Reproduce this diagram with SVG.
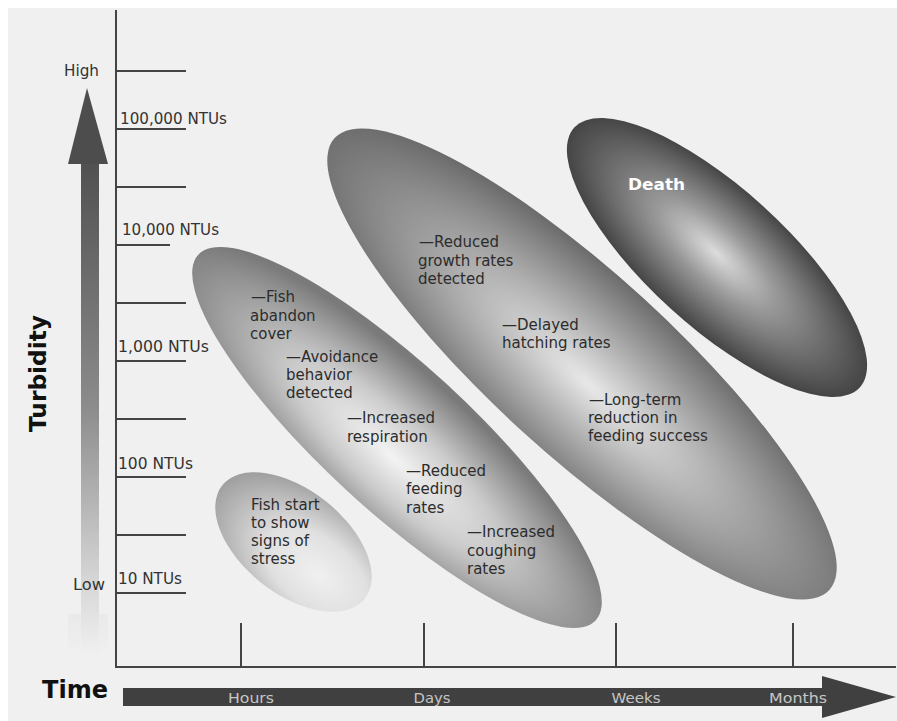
<svg xmlns="http://www.w3.org/2000/svg" width="897" height="721" viewBox="0 0 897 721">
<style>
.lbl{font-family:"DejaVu Sans","Liberation Sans",sans-serif;font-size:15px;fill:#2c2c2c}
.ax{font-family:"DejaVu Sans","Liberation Sans",sans-serif;font-size:15px;fill:#333}
.tm{font-family:"DejaVu Sans","Liberation Sans",sans-serif;font-size:14px;fill:#c6c6c6;text-anchor:middle}
.ttl{font-family:"DejaVu Sans","Liberation Sans",sans-serif;font-weight:bold;fill:#111}
.tick{stroke:#444;stroke-width:2;fill:none}
</style>
<defs>
<radialGradient id="g1" cx="0.68" cy="0.58" r="0.72" fx="0.72" fy="0.6">
<stop offset="0" stop-color="#f0f0f0"/>
<stop offset="0.45" stop-color="#e0e0e0"/>
<stop offset="1" stop-color="#9a9a9a"/>
</radialGradient>
<radialGradient id="g2" cx="0.52" cy="0.6" r="0.56" fx="0.52" fy="0.62">
<stop offset="0" stop-color="#f3f3f3"/>
<stop offset="0.45" stop-color="#cacaca"/>
<stop offset="1" stop-color="#7a7a7a"/>
</radialGradient>
<radialGradient id="g3" cx="0.53" cy="0.55" r="0.56" fx="0.53" fy="0.56">
<stop offset="0" stop-color="#e8e8e8"/>
<stop offset="0.5" stop-color="#a9a9a9"/>
<stop offset="1" stop-color="#6a6a6a"/>
</radialGradient>
<radialGradient id="g4" cx="0.5" cy="0.5" r="0.55" fx="0.49" fy="0.48">
<stop offset="0" stop-color="#dcdcdc"/>
<stop offset="0.35" stop-color="#9a9a9a"/>
<stop offset="1" stop-color="#373737"/>
</radialGradient>
<linearGradient id="shaft" x1="0" y1="160" x2="0" y2="655" gradientUnits="userSpaceOnUse">
<stop offset="0" stop-color="#505050"/>
<stop offset="0.5" stop-color="#8c8c8c"/>
<stop offset="0.85" stop-color="#d6d6d6"/>
<stop offset="1" stop-color="#f0f0f0"/>
</linearGradient>
<linearGradient id="tail" x1="0" y1="605" x2="0" y2="660" gradientUnits="userSpaceOnUse">
<stop offset="0" stop-color="#e8e8e8"/>
<stop offset="1" stop-color="#f0f0f0"/>
</linearGradient>
</defs>

<rect x="0" y="0" width="897" height="721" fill="#ffffff"/>
<rect x="8" y="8" width="889" height="713" fill="#f0f0f0"/>

<g id="ellipse-stress">
<g transform="translate(293.5,542) rotate(38.5)"><ellipse cx="0" cy="0" rx="91" ry="52" fill="url(#g1)"/></g>
<text class="lbl" x="251" y="510">Fish start</text>
<text class="lbl" x="251" y="528">to show</text>
<text class="lbl" x="251" y="546">signs of</text>
<text class="lbl" x="251" y="564">stress</text>
</g>

<g id="ellipse-behavior">
<g transform="translate(397,437.5) rotate(42.6)"><ellipse cx="0" cy="0" rx="270" ry="73" fill="url(#g2)"/></g>
<text class="lbl" x="251" y="302">—Fish</text>
<text class="lbl" x="250" y="321">abandon</text>
<text class="lbl" x="250" y="339">cover</text>
<text class="lbl" x="286" y="362">—Avoidance</text>
<text class="lbl" x="286" y="380">behavior</text>
<text class="lbl" x="286" y="398">detected</text>
<text class="lbl" x="347" y="423">—Increased</text>
<text class="lbl" x="347" y="442">respiration</text>
<text class="lbl" x="406" y="476">—Reduced</text>
<text class="lbl" x="406" y="494">feeding</text>
<text class="lbl" x="406" y="513">rates</text>
<text class="lbl" x="467" y="537">—Increased</text>
<text class="lbl" x="467" y="556">coughing</text>
<text class="lbl" x="467" y="574">rates</text>
</g>

<g id="ellipse-growth">
<g transform="translate(582,364) rotate(42.4)"><ellipse cx="0" cy="0" rx="335" ry="90" fill="url(#g3)"/></g>
<text class="lbl" x="419" y="247">—Reduced</text>
<text class="lbl" x="418" y="266">growth rates</text>
<text class="lbl" x="418" y="284">detected</text>
<text class="lbl" x="502" y="330">—Delayed</text>
<text class="lbl" x="502" y="348">hatching rates</text>
<text class="lbl" x="589" y="405">—Long-term</text>
<text class="lbl" x="588" y="423">reduction in</text>
<text class="lbl" x="588" y="441">feeding success</text>
</g>

<g id="ellipse-death">
<g transform="translate(717,257.5) rotate(42.3)"><ellipse cx="0" cy="0" rx="193" ry="69" fill="url(#g4)"/></g>
<text x="628" y="190" font-family="DejaVu Sans, Liberation Sans, sans-serif" font-weight="bold" font-size="15" fill="#ffffff" textLength="57" lengthAdjust="spacingAndGlyphs">Death</text>
</g>

<g id="connectors">
<polygon points="68,614 108,614 108,652 88,642 68,652" fill="url(#tail)"/>
<rect x="81" y="160" width="18" height="495" fill="url(#shaft)"/>
<polygon points="87,88 108,164 68,164" fill="#4d4d4d"/>
<line class="tick" x1="116" y1="10" x2="116" y2="667"/>
<line class="tick" x1="115" y1="667" x2="896" y2="667"/>
<line class="tick" x1="116" y1="71" x2="186" y2="71"/>
<line class="tick" x1="116" y1="129" x2="186" y2="129"/>
<line class="tick" x1="116" y1="187" x2="186" y2="187"/>
<line class="tick" x1="116" y1="245" x2="170" y2="245"/>
<line class="tick" x1="116" y1="303" x2="186" y2="303"/>
<line class="tick" x1="116" y1="361" x2="186" y2="361"/>
<line class="tick" x1="116" y1="419" x2="186" y2="419"/>
<line class="tick" x1="116" y1="477" x2="186" y2="477"/>
<line class="tick" x1="116" y1="535" x2="186" y2="535"/>
<line class="tick" x1="116" y1="593" x2="186" y2="593"/>
<line class="tick" x1="241" y1="623" x2="241" y2="667"/>
<line class="tick" x1="424" y1="623" x2="424" y2="667"/>
<line class="tick" x1="616" y1="623" x2="616" y2="667"/>
<line class="tick" x1="793" y1="623" x2="793" y2="667"/>
<rect x="123" y="688" width="703" height="18" fill="#404040"/>
<polygon points="822,676 896,697 822,718" fill="#404040"/>
</g>

<g id="labels">
<text class="ax" x="64" y="76" textLength="35" lengthAdjust="spacingAndGlyphs">High</text>
<text class="ax" x="73" y="590" textLength="32" lengthAdjust="spacingAndGlyphs">Low</text>
<text class="ax" x="120" y="124" textLength="107" lengthAdjust="spacingAndGlyphs">100,000 NTUs</text>
<text class="ax" x="122" y="235" textLength="97" lengthAdjust="spacingAndGlyphs">10,000 NTUs</text>
<text class="ax" x="118" y="352" textLength="91" lengthAdjust="spacingAndGlyphs">1,000 NTUs</text>
<text class="ax" x="118" y="469" textLength="75" lengthAdjust="spacingAndGlyphs">100 NTUs</text>
<text class="ax" x="118" y="584" textLength="64" lengthAdjust="spacingAndGlyphs">10 NTUs</text>
<text class="ttl" font-size="23" transform="translate(46,432) rotate(-90)" textLength="117" lengthAdjust="spacingAndGlyphs">Turbidity</text>
<text class="ttl" font-size="24" x="42" y="698" textLength="66" lengthAdjust="spacingAndGlyphs">Time</text>
<text class="tm" x="251" y="703" textLength="46" lengthAdjust="spacingAndGlyphs">Hours</text>
<text class="tm" x="432" y="703" textLength="37" lengthAdjust="spacingAndGlyphs">Days</text>
<text class="tm" x="636" y="703" textLength="49" lengthAdjust="spacingAndGlyphs">Weeks</text>
<text class="tm" x="798" y="703" textLength="58" lengthAdjust="spacingAndGlyphs">Months</text>
</g>
</svg>
